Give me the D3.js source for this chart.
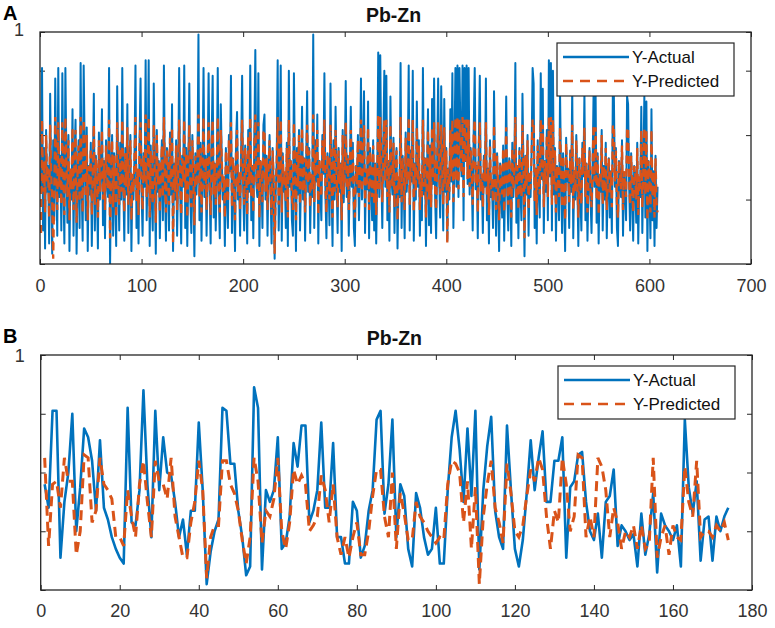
<!DOCTYPE html>
<html>
  <head>
    <meta charset="UTF-8">
    <title>Pb-Zn actual vs predicted</title>
    <script src="https://d3js.org/d3.v7.min.js"></script>
    <style>
      body {
        margin: 0;
        background: #fff;
      }
      text {
        font-family: "Liberation Sans", Arial, sans-serif;
      }
      .tick text, .one {
        font-size: 18px;
        fill: #333;
      }
      .tick line {
        stroke: #262626;
      }
      .title {
        font-size: 19.5px;
        font-weight: bold;
        fill: #111;
      }
      .panel-label {
        font-size: 20px;
        font-weight: bold;
        fill: #000;
      }
      .legend text {
        font-size: 17px;
        fill: #111;
      }
    </style>
  </head>
  <body>
    <div id="chart"></div>

<script>
  // panel A: training samples (1..608)
  var actualA = [
    .40,.86,.23,.55,.16,.62,.38,.48,.18,.76,.42,.14,.58,.27,.82,.45,.21,.86,.36,.52,
    .23,.84,.41,.18,.86,.50,.26,.60,.15,.46,.35,.70,.21,.52,.66,.14,.44,.58,.24,.88,
    .40,.19,.87,.55,.27,.63,.15,.48,.37,.57,.17,.45,.76,.23,.52,.40,.16,.61,.35,.47,
    .70,.25,.50,.20,.58,.42,.36,.86,.10,.45,.60,.21,.53,.38,.17,.79,.44,.23,.57,.35,
    .86,.41,.19,.55,.37,.72,.22,.48,.60,.15,.43,.35,.51,.87,.24,.46,.18,.58,.82,.38,
    .21,.53,.40,.89,.27,.47,.89,.17,.56,.36,.23,.80,.45,.14,.62,.38,.50,.20,.44,.58,
    .27,.87,.41,.19,.55,.47,.23,.61,.37,.72,.15,.49,.35,.58,.21,.44,.86,.39,.18,.52,
    .40,.87,.24,.55,.17,.46,.80,.35,.22,.60,.42,.13,.53,.37,.48,.99,.27,.57,.19,.45,
    .86,.36,.52,.21,.47,.84,.40,.18,.58,.83,.28,.49,.23,.44,.86,.38,.20,.72,.50,.35,
    .42,.17,.55,.37,.24,.60,.46,.83,.22,.51,.39,.15,.57,.69,.35,.45,.21,.53,.83,.40,
    .23,.56,.44,.18,.62,.38,.87,.27,.48,.20,.59,.93,.41,.36,.84,.17,.50,.45,.24,.64,
    .68,.35,.52,.21,.46,.60,.39,.18,.55,.42,.12,.37,.49,.89,.23,.44,.87,.19,.53,.38,
    .45,.24,.57,.17,.85,.40,.50,.27,.21,.84,.46,.15,.55,.37,.62,.23,.43,.71,.35,.51,
    .19,.48,.77,.38,.55,.22,.44,.36,.99,.24,.58,.42,.68,.18,.50,.39,.27,.60,.45,.84,
    .37,.20,.53,.46,.25,.80,.41,.17,.58,.35,.71,.43,.22,.55,.38,.49,.15,.62,.34,.47,
    .81,.36,.52,.21,.45,.71,.40,.57,.24,.17,.48,.38,.60,.27,.44,.82,.35,.50,.77,.22,
    .46,.39,.73,.20,.55,.42,.27,.58,.23,.49,.18,.44,.92,.36,.91,.48,.24,.57,.85,.40,
    .83,.27,.50,.19,.75,.44,.37,.59,.22,.46,.55,.16,.42,.36,.88,.24,.52,.45,.20,.61,
    .38,.47,.87,.23,.54,.42,.85,.19,.49,.35,.73,.40,.58,.21,.44,.27,.86,.37,.51,.17,
    .45,.70,.25,.56,.22,.74,.41,.82,.36,.20,.50,.82,.43,.28,.79,.48,.23,.74,.38,.55,
    .19,.47,.35,.70,.42,.84,.24,.53,.86,.40,.87,.36,.86,.58,.44,.87,.27,.86,.50,.87,
    .41,.86,.37,.55,.46,.23,.62,.86,.39,.48,.20,.57,.83,.35,.44,.22,.52,.40,.82,.27,
    .47,.18,.58,.36,.42,.24,.77,.45,.21,.53,.37,.15,.49,.40,.28,.56,.19,.44,.75,.38,
    .23,.51,.43,.17,.57,.36,.45,.88,.26,.48,.20,.55,.39,.27,.76,.46,.13,.52,.37,.60,
    .21,.45,.36,.54,.86,.80,.24,.47,.18,.58,.40,.28,.84,.43,.78,.22,.50,.38,.62,.27,
    .89,.44,.88,.23,.85,.37,.55,.19,.48,.41,.27,.76,.45,.22,.53,.36,.15,.59,.42,.47,
    .24,.54,.38,.78,.20,.46,.35,.60,.43,.17,.51,.37,.23,.57,.44,.76,.27,.49,.19,.41,
    .55,.36,.22,.47,.76,.40,.76,.26,.53,.18,.44,.38,.62,.23,.48,.35,.57,.20,.42,.51,
    .28,.46,.22,.78,.75,.40,.55,.24,.17,.50,.43,.36,.58,.21,.45,.39,.27,.75,.72,.41,
    .23,.53,.37,.19,.48,.44,.26,.57,.18,.42,.36,.71,.22,.47,.75,.28,.73,.15,.50,.40,
    .20,.70,.27,.46,.17,.52,.24,.40
  ];
  var predictedA = [
    .22,.66,.38,.50,.30,.60,.42,.47,.28,.64,.45,.35,.12,.37,.67,.48,.31,.65,.40,.51,
    .33,.65,.44,.29,.67,.49,.36,.58,.27,.47,.39,.63,.31,.52,.62,.26,.46,.56,.34,.67,
    .43,.30,.66,.53,.36,.60,.27,.48,.40,.55,.29,.46,.64,.33,.51,.42,.28,.58,.38,.47,
    .62,.35,.49,.31,.56,.44,.39,.66,.20,.46,.58,.32,.52,.41,.28,.65,.45,.33,.55,.38,
    .66,.43,.30,.53,.40,.63,.33,.48,.58,.27,.45,.38,.51,.67,.34,.47,.29,.56,.65,.41,
    .31,.52,.42,.68,.36,.47,.67,.28,.54,.39,.33,.64,.46,.26,.60,.41,.50,.30,.45,.56,
    .36,.67,.43,.30,.54,.48,.33,.59,.40,.63,.18,.49,.38,.56,.31,.45,.66,.41,.29,.51,
    .42,.66,.34,.53,.28,.47,.64,.38,.32,.58,.44,.25,.52,.40,.48,.68,.36,.55,.30,.46,
    .67,.39,.51,.31,.47,.65,.42,.29,.56,.66,.37,.49,.33,.45,.67,.40,.30,.62,.50,.38,
    .44,.28,.54,.40,.34,.58,.47,.65,.32,.51,.41,.27,.55,.62,.38,.46,.31,.52,.66,.42,
    .33,.55,.45,.29,.60,.41,.67,.36,.48,.30,.57,.68,.43,.39,.65,.28,.50,.46,.34,.61,
    .62,.38,.51,.31,.47,.58,.41,.29,.54,.44,.14,.40,.49,.67,.33,.45,.66,.30,.52,.41,
    .46,.34,.55,.28,.66,.42,.50,.36,.31,.65,.47,.27,.54,.40,.60,.33,.44,.63,.38,.51,
    .30,.48,.64,.41,.54,.32,.45,.39,.68,.34,.56,.44,.62,.29,.50,.41,.36,.58,.46,.66,
    .40,.30,.52,.47,.35,.64,.43,.28,.56,.38,.62,.44,.32,.54,.41,.49,.27,.60,.37,.47,
    .65,.39,.51,.31,.46,.62,.42,.55,.34,.28,.48,.41,.58,.36,.45,.66,.38,.50,.64,.32,
    .47,.41,.63,.31,.54,.44,.36,.56,.33,.49,.29,.45,.68,.39,.67,.48,.34,.55,.66,.42,
    .66,.36,.50,.30,.64,.45,.40,.57,.32,.47,.54,.27,.44,.39,.67,.34,.51,.46,.31,.59,
    .41,.47,.67,.33,.53,.44,.66,.30,.49,.38,.63,.42,.56,.31,.45,.36,.66,.40,.51,.28,
    .46,.62,.35,.55,.32,.63,.43,.65,.39,.31,.50,.65,.44,.37,.64,.48,.33,.63,.41,.54,
    .18,.47,.38,.62,.44,.66,.34,.52,.67,.42,.67,.39,.66,.56,.45,.67,.36,.66,.50,.67,
    .43,.66,.40,.54,.47,.33,.60,.66,.41,.48,.30,.55,.65,.38,.45,.32,.51,.42,.65,.36,
    .47,.29,.56,.39,.43,.34,.64,.46,.31,.52,.40,.27,.49,.42,.37,.55,.30,.45,.63,.41,
    .33,.51,.44,.28,.55,.39,.46,.67,.35,.48,.31,.54,.41,.36,.64,.47,.20,.52,.40,.58,
    .31,.46,.39,.53,.66,.64,.34,.47,.29,.56,.42,.37,.66,.44,.64,.32,.50,.41,.60,.36,
    .67,.45,.67,.33,.66,.40,.54,.30,.48,.43,.36,.63,.46,.32,.52,.39,.27,.57,.44,.47,
    .34,.53,.41,.64,.31,.47,.38,.58,.44,.28,.51,.40,.33,.55,.45,.63,.36,.49,.30,.43,
    .54,.39,.32,.47,.64,.42,.63,.35,.52,.29,.45,.41,.60,.33,.48,.38,.55,.31,.44,.51,
    .37,.46,.32,.64,.63,.42,.54,.34,.28,.50,.44,.39,.56,.31,.46,.41,.36,.63,.62,.43,
    .33,.52,.40,.30,.48,.45,.35,.55,.29,.44,.39,.62,.32,.47,.63,.37,.62,.27,.50,.42,
    .30,.62,.36,.46,.28,.51,.34,.30
  ];

  // panel B: test samples (1..174)
  var actualB = [
    .56,.48,.81,.81,.31,.50,.60,.80,.40,.55,.75,.72,.64,.47,.71,.48,.44,.38,.34,.31,
    .29,.82,.43,.42,.54,.88,.56,.38,.81,.54,.72,.60,.59,.50,.38,.44,.32,.47,.47,.77,
    .54,.22,.33,.40,.44,.82,.81,.63,.63,.47,.38,.25,.28,.89,.82,.27,.54,.50,.54,.72,
    .34,.36,.45,.70,.62,.76,.76,.43,.47,.54,.77,.48,.48,.70,.38,.38,.29,.29,.50,.47,
    .31,.35,.47,.54,.78,.81,.46,.56,.78,.38,.56,.52,.34,.28,.53,.48,.38,.32,.34,.48,
    .29,.29,.54,.72,.81,.68,.50,.75,.52,.81,.27,.54,.69,.79,.47,.38,.34,.76,.54,.34,
    .28,.37,.53,.71,.54,.65,.74,.50,.50,.64,.64,.72,.31,.55,.57,.66,.67,.50,.40,.37,
    .46,.31,.50,.52,.61,.35,.42,.40,.37,.39,.28,.46,.32,.39,.53,.26,.46,.42,.40,.37,
    .42,.28,.78,.55,.46,.57,.30,.44,.45,.30,.45,.40,.45,.48
  ];
  var predictedB = [
    .65,.35,.56,.57,.48,.65,.57,.57,.32,.40,.66,.65,.43,.47,.65,.56,.54,.51,.38,.38,
    .35,.54,.45,.38,.56,.64,.50,.38,.64,.57,.56,.51,.65,.45,.38,.31,.31,.43,.50,.64,
    .54,.24,.38,.42,.42,.64,.64,.56,.53,.47,.37,.29,.38,.65,.57,.36,.47,.45,.51,.65,
    .40,.34,.43,.61,.56,.59,.56,.40,.42,.45,.59,.54,.43,.56,.38,.32,.38,.31,.38,.43,
    .32,.32,.40,.52,.61,.61,.45,.38,.60,.34,.53,.46,.37,.37,.50,.45,.43,.40,.38,.36,
    .38,.37,.56,.64,.63,.60,.43,.57,.34,.55,.22,.45,.56,.64,.48,.43,.36,.63,.53,.40,
    .38,.42,.52,.61,.57,.65,.61,.45,.34,.47,.43,.65,.56,.40,.45,.66,.65,.38,.45,.38,
    .65,.62,.54,.38,.48,.43,.34,.40,.38,.42,.34,.42,.34,.36,.65,.31,.38,.42,.32,.42,
    .38,.37,.62,.50,.45,.64,.38,.40,.40,.38,.42,.40,.43,.37
  ];

  var seriesNames = ["Y-Actual", "Y-Predicted"];
  var titleText = "Pb-Zn";

  var blue = "#0072BD", orange = "#D95319", ink = "#262626";

  var svg = d3.select("#chart")
    .append("svg")
      .attr("width", 775)
      .attr("height", 628);

  function drawPanel(p, actual, predicted) {
    var x = d3.scaleLinear().domain([0, p.xMax]).range([p.left, p.right]);
    var y = d3.scaleLinear().domain([p.yMin, 1]).range([p.bottom, p.top]);
    var xTicks = d3.range(0, p.xMax + 1, p.xStep);

    var g = svg.append("g");

    g.append("clipPath").attr("id", "clip" + p.label)
      .append("rect")
        .attr("x", p.left).attr("y", p.top)
        .attr("width", p.right - p.left).attr("height", p.bottom - p.top);

    // axes, ticks pointing inwards like matlab
    g.append("g")
      .attr("transform", "translate(0," + p.bottom + ")")
      .call(d3.axisBottom(x).tickValues(xTicks).tickSizeInner(-5).tickSizeOuter(0).tickPadding(p.xPad))
      .call(a => a.select(".domain").remove());
    g.append("g")
      .attr("transform", "translate(0," + p.top + ")")
      .call(d3.axisTop(x).tickValues(xTicks).tickSizeInner(-5).tickSizeOuter(0).tickFormat(""))
      .call(a => a.select(".domain").remove());
    g.append("g")
      .attr("transform", "translate(" + p.left + ",0)")
      .call(d3.axisLeft(y).tickValues(p.yTicks).tickSizeInner(-5).tickSizeOuter(0).tickFormat(""))
      .call(a => a.select(".domain").remove());
    g.append("g")
      .attr("transform", "translate(" + p.right + ",0)")
      .call(d3.axisRight(y).tickValues(p.yTicks).tickSizeInner(-5).tickSizeOuter(0).tickFormat(""))
      .call(a => a.select(".domain").remove());

    // only the top y label is legible in the figure
    g.append("text")
      .attr("class", "one")
      .attr("x", p.left - 16)
      .attr("y", y(1) + p.oneDy)
      .attr("text-anchor", "end")
      .text("1");

    var line = d3.line()
      .x((d, i) => x(i + 1))
      .y(d => y(d));

    var plot = g.append("g").attr("clip-path", "url(#clip" + p.label + ")");
    plot.append("path")
      .datum(actual)
      .attr("fill", "none")
      .attr("stroke", blue)
      .attr("stroke-width", p.lineW)
      .attr("stroke-linejoin", "round")
      .attr("d", line);
    plot.append("path")
      .datum(predicted)
      .attr("fill", "none")
      .attr("stroke", orange)
      .attr("stroke-width", p.dashW)
      .attr("stroke-dasharray", p.dash)
      .attr("d", line);

    g.append("rect")
      .attr("x", p.left).attr("y", p.top)
      .attr("width", p.right - p.left).attr("height", p.bottom - p.top)
      .attr("fill", "none")
      .attr("stroke", ink)
      .attr("stroke-width", 1.3);

    g.append("text")
      .attr("class", "title")
      .attr("x", (p.left + p.right) / 2 - 2)
      .attr("y", p.top - 10)
      .attr("text-anchor", "middle")
      .text(titleText);

    g.append("text")
      .attr("class", "panel-label")
      .attr("x", 3)
      .attr("y", p.top - 12)
      .text(p.label);

    // legend
    var lg = g.append("g").attr("class", "legend")
      .attr("transform", "translate(" + p.legX + "," + p.legY + ")");
    lg.append("rect")
      .attr("width", 177).attr("height", 53)
      .attr("fill", "#fff")
      .attr("stroke", ink)
      .attr("stroke-width", 1.2);
    seriesNames.forEach(function(name, k) {
      var ly = 14 + k * 24;
      lg.append("line")
        .attr("x1", 6).attr("x2", 72)
        .attr("y1", ly).attr("y2", ly)
        .attr("stroke", k === 0 ? blue : orange)
        .attr("stroke-width", 2.6)
        .attr("stroke-dasharray", k === 0 ? null : "10,7");
      lg.append("text")
        .attr("x", 75)
        .attr("y", ly + 6)
        .text(name);
    });
  }

  drawPanel({label: "A", left: 40, right: 751, top: 32, bottom: 264,
             xMax: 700, xStep: 100, xPad: 15, yMin: 0.1, yTicks: [0.1, 0.35, 0.6, 0.85, 1],
             oneDy: 4, lineW: 2, dashW: 2.3, dash: "8,5",
             legX: 557, legY: 43}, actualA, predictedA);

  drawPanel({label: "B", left: 40.7, right: 752, top: 355, bottom: 590,
             xMax: 180, xStep: 20, xPad: 14, yMin: 0.2, yTicks: [0.2, 0.4, 0.6, 0.8, 1],
             oneDy: 7, lineW: 2.6, dashW: 3, dash: "10,6",
             legX: 558, legY: 366}, actualB, predictedB);
</script>
</body>
</html>
